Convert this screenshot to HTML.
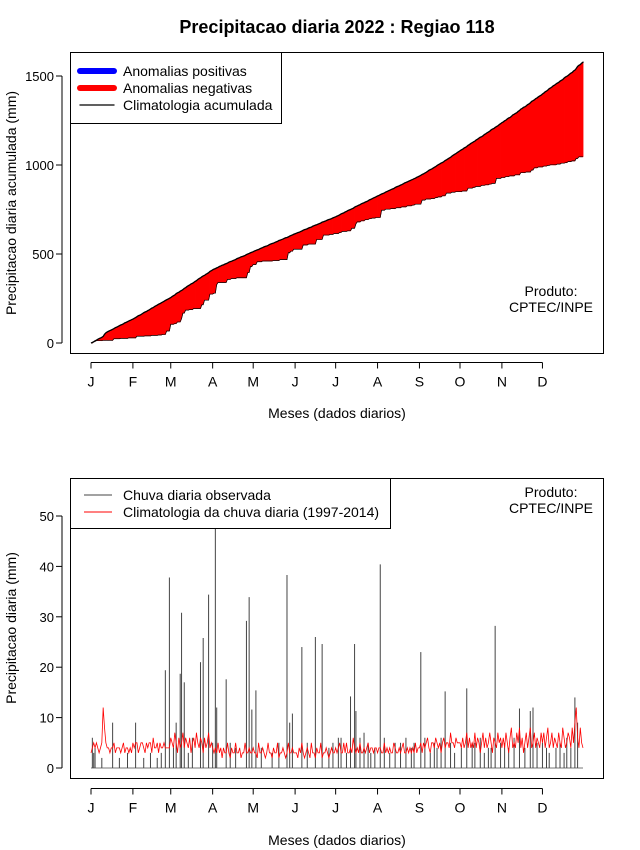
<!DOCTYPE html>
<html><head><meta charset="utf-8"><style>
body{margin:0;background:#fff}
svg{display:block;font-family:"Liberation Sans",sans-serif}
</style></head><body>
<svg id="c" width="640" height="850" viewBox="0 0 640 850"></svg>
<script>
// ---- data ----
const monthLabels=["J","F","M","A","M","J","J","A","S","O","N","D"];
const monthStartDays=[1,32,60,91,121,152,182,213,244,274,305,335];
const topYTicks=[0,500,1000,1500];
const botYTicks=[0,10,20,30,40,50];
// daily climatology (mm/day), by month
const climJan=[3,4,5,4,5,4,3,4,5,12,8,5,4,4,3,4,4,5,3,4,4,4,3,4,5,3,4,4,3,4,3];
const climFeb=[5,4,5,5,3,4,5,5,4,3,5,4,5,5,3,6,4,4,5,3,5,4,4,5,4,4,4,4];
const climMar=[6,5,4,7,5,3,6,4,5,7,4,6,5,4,6,3,5,6,4,7,5,4,6,5,3,6,4,5,7,4,5];
const climApr=[4,3,4,3,5,3,4,2,4,3,3,5,3,2,4,3,3,5,3,3,4,2,3,3,5,3,3,4,3,3];
const climMay=[4,3,3,2,5,3,3,4,3,2,3,5,3,3,2,4,3,3,5,2,3,3,4,3,2,3,5,3,3,4,3];
const climJun=[3,3,2,4,3,5,3,2,3,4,3,2,5,3,3,2,4,3,3,5,2,3,3,4,3,2,3,4,3,3];
const climJul=[4,3,4,5,3,3,5,3,5,3,3,4,3,6,4,3,4,3,5,3,3,4,3,4,5,3,4,4,3,4,4];
const climAug=[3,4,4,3,3,5,3,4,3,4,3,3,5,4,3,3,4,3,4,5,3,3,4,3,4,3,4,3,5,3,4];
const climSep=[4,5,3,5,4,5,6,4,3,5,5,4,6,5,4,5,3,5,6,4,5,5,4,7,5,5,4,6,5,5];
const climOct=[5,4,6,4,5,7,4,6,4,5,4,7,4,6,5,3,5,7,4,6,4,5,7,5,3,6,5,4,7,5,6];
const climNov=[4,6,4,7,5,3,6,8,4,5,4,7,5,8,4,6,3,5,7,4,6,8,4,5,7,4,6,5,4,7];
const climDec=[5,7,4,6,8,4,5,7,4,6,5,4,7,5,4,8,6,4,5,7,6,4,8,5,9,12,6,4,8,5,4];
// observed daily rainfall: days with rain and amounts (mm)
const obsDays=[2,3,4,9,17,22,28,34,40,45,50,53,56,59,62,64,67,68,70,73,76,82,84,88,91,93,94,101,104,108,116,118,120,123,127,135,140,146,148,150,157,161,167,172,177,180,184,186,190,193,196,197,200,203,206,208,211,215,218,222,226,230,234,238,240,245,248,252,255,257,260,263,267,270,275,279,283,285,289,292,295,297,300,304,307,310,314,318,322,326,328,331,335,338,340,345,348,351,353,356,359,361];
const obsVals=[6,3,4,2,9,2,3,9,2,3,2,3,19.4,37.8,4,9,18.7,30.8,17,3,6,21,25.8,34.4,5,48,12,17.6,5,4,29.2,33.9,11.6,15.4,4,3,5,38.3,9,10.8,24,5,26,24.6,4,5,6,6,3,14.2,24.6,11.3,6,7,5,3,4,40.4,6,3,5,5,6,4,5,23,6,3,5,4,6,15.2,5,3,4,15.8,5,5,6,3,4,4,28.2,5,5,4,6,11.8,4,11.3,12,5,5,4,3,4,5,3,6,4,14,9];

// ---- helpers ----
const NS="http://www.w3.org/2000/svg";
const svg=document.getElementById('c');
function mk(tag,attrs,parent){const e=document.createElementNS(NS,tag);for(const k in attrs)e.setAttribute(k,attrs[k]);(parent||svg).appendChild(e);return e;}
function txt(x,y,s,attrs){const e=mk('text',Object.assign({x:x,y:y},attrs||{}));e.textContent=s;return e;}
const clim=[].concat(climJan,climFeb,climMar,climApr,climMay,climJun,climJul,climAug,climSep,climOct,climNov,climDec);
const N=clim.length;
const obs=new Array(N).fill(0);
obsDays.forEach((d,i)=>{obs[d-1]=obsVals[i];});
const xs=d=>91+(d-1)*(492/(N-1));

// title
const t=txt(337,33,"Precipitacao diaria 2022 : Regiao 118",{"text-anchor":"middle","font-size":"18","font-weight":"bold"});


// ---- top chart ----
const yT=v=>343-v*(267/1500);
let cc=[0],co=[0];
for(let i=0;i<N;i++){cc.push(cc[i]+clim[i]);co.push(co[i]+obs[i]);}
const gA=mk('g',{});

for(let i=0;i<N;i++){
  const x1=xs(i+1),x2=xs(i+2>N?N:i+2);
  const a=cc[i],b=cc[i+1],c=co[i],d=co[i+1];
  const col=(c+d)>(a+b)?'#0000ff':'#ff0000';
  const p=mk('polygon',{points:`${x1},${yT(a)} ${x2},${yT(b)} ${x2},${yT(d)} ${x1},${yT(c)}`,fill:col,stroke:col,"stroke-width":"0.6"},gA);
  
}
let pts=[],pto=[];
for(let i=0;i<=N;i++){const x=xs(Math.min(i+1,N));pts.push(x+','+yT(cc[i]));pto.push(x+','+yT(co[i]));}
const lo=mk('polyline',{points:pto.join(' '),fill:'none',stroke:'#000','stroke-width':'0.7'});

const lc=mk('polyline',{points:pts.join(' '),fill:'none',stroke:'#000','stroke-width':'1.3'});

const b1=mk('rect',{x:70.5,y:52.5,width:533,height:301,fill:'none',stroke:'#000'});


function xAxis(y,name){
  const g=mk('g',{});
  mk('line',{x1:xs(monthStartDays[0]),x2:xs(monthStartDays[11]),y1:y,y2:y,stroke:'#000'},g);
  monthStartDays.forEach((d,i)=>{mk('line',{x1:xs(d),x2:xs(d),y1:y,y2:y+6,stroke:'#000'},g);
    const l=txt(xs(d),y+24,monthLabels[i],{"text-anchor":"middle","font-size":"14"});g.appendChild(l);});
}
function yAxis(ticks,f,name){
  const g=mk('g',{});
  mk('line',{x1:62,x2:62,y1:f(ticks[0]),y2:f(ticks[ticks.length-1]),stroke:'#000'},g);
  ticks.forEach(v=>{mk('line',{x1:56,x2:62,y1:f(v),y2:f(v),stroke:'#000'},g);
    const l=txt(54,f(v)+5,String(v),{"text-anchor":"end","font-size":"13"});g.appendChild(l);});
}
xAxis(362.5,'top-x-axis');yAxis(topYTicks,yT,'top-y-axis');
let e=txt(337,418,"Meses (dados diarios)",{"text-anchor":"middle","font-size":"14"});
e=txt(0,0,"Precipitacao diaria acumulada (mm)",{"text-anchor":"middle","font-size":"14",transform:"translate(16,203) rotate(-90)"});
e=txt(551,296,"Produto:",{"text-anchor":"middle","font-size":"14"});
e=txt(551,312,"CPTEC/INPE",{"text-anchor":"middle","font-size":"14"});
// top legend
const lg=mk('g',{});
mk('rect',{x:70.5,y:52.5,width:211,height:71,fill:'#fff',stroke:'#000'},lg);
[['#0000ff',6,'Anomalias positivas'],['#ff0000',6,'Anomalias negativas'],['#000',1.3,'Climatologia acumulada']].forEach((r,i)=>{
  const y=71+i*17;
  const it=mk('g',{},lg);
  mk('line',{x1:80,x2:114,y1:y,y2:y,stroke:r[0],'stroke-width':r[1],'stroke-linecap':'round'},it);
  it.appendChild(txt(123,y+5,r[2],{"font-size":"14"}));
});

// ---- bottom chart ----
const yB=v=>768-v*5.04;
const gO=mk('g',{});
mk('line',{x1:xs(1),x2:xs(N),y1:yB(0),y2:yB(0),stroke:'#777','stroke-width':'1'},gO);
obs.forEach((v,i)=>{if(v>0){const l=mk('line',{x1:xs(i+1),x2:xs(i+1),y1:yB(0),y2:Math.max(478,yB(v)),stroke:'#444','stroke-width':'1'},gO);
  }});
const cl=mk('polyline',{points:clim.map((v,i)=>xs(i+1)+','+yB(v)).join(' '),fill:'none',stroke:'#ff0000','stroke-width':'0.8'});

const b2=mk('rect',{x:70.5,y:478.5,width:533,height:300,fill:'none',stroke:'#000'});

xAxis(788.5,'bottom-x-axis');yAxis(botYTicks,yB,'bottom-y-axis');
e=txt(337,845,"Meses (dados diarios)",{"text-anchor":"middle","font-size":"14"});
e=txt(0,0,"Precipitacao diaria (mm)",{"text-anchor":"middle","font-size":"14",transform:"translate(16,628) rotate(-90)"});
e=txt(551,497,"Produto:",{"text-anchor":"middle","font-size":"14"});
e=txt(551,513,"CPTEC/INPE",{"text-anchor":"middle","font-size":"14"});
const lg2=mk('g',{});
mk('rect',{x:70.5,y:478.5,width:320,height:50,fill:'#fff',stroke:'#000'},lg2);
[['#444','Chuva diaria observada'],['#ff0000','Climatologia da chuva diaria (1997-2014)']].forEach((r,i)=>{
  const y=495+i*17;
  const it=mk('g',{},lg2);
  mk('line',{x1:84,x2:112,y1:y,y2:y,stroke:r[0],'stroke-width':'1'},it);
  it.appendChild(txt(123,y+5,r[1],{"font-size":"14"}));
});
</script>
</body></html>
